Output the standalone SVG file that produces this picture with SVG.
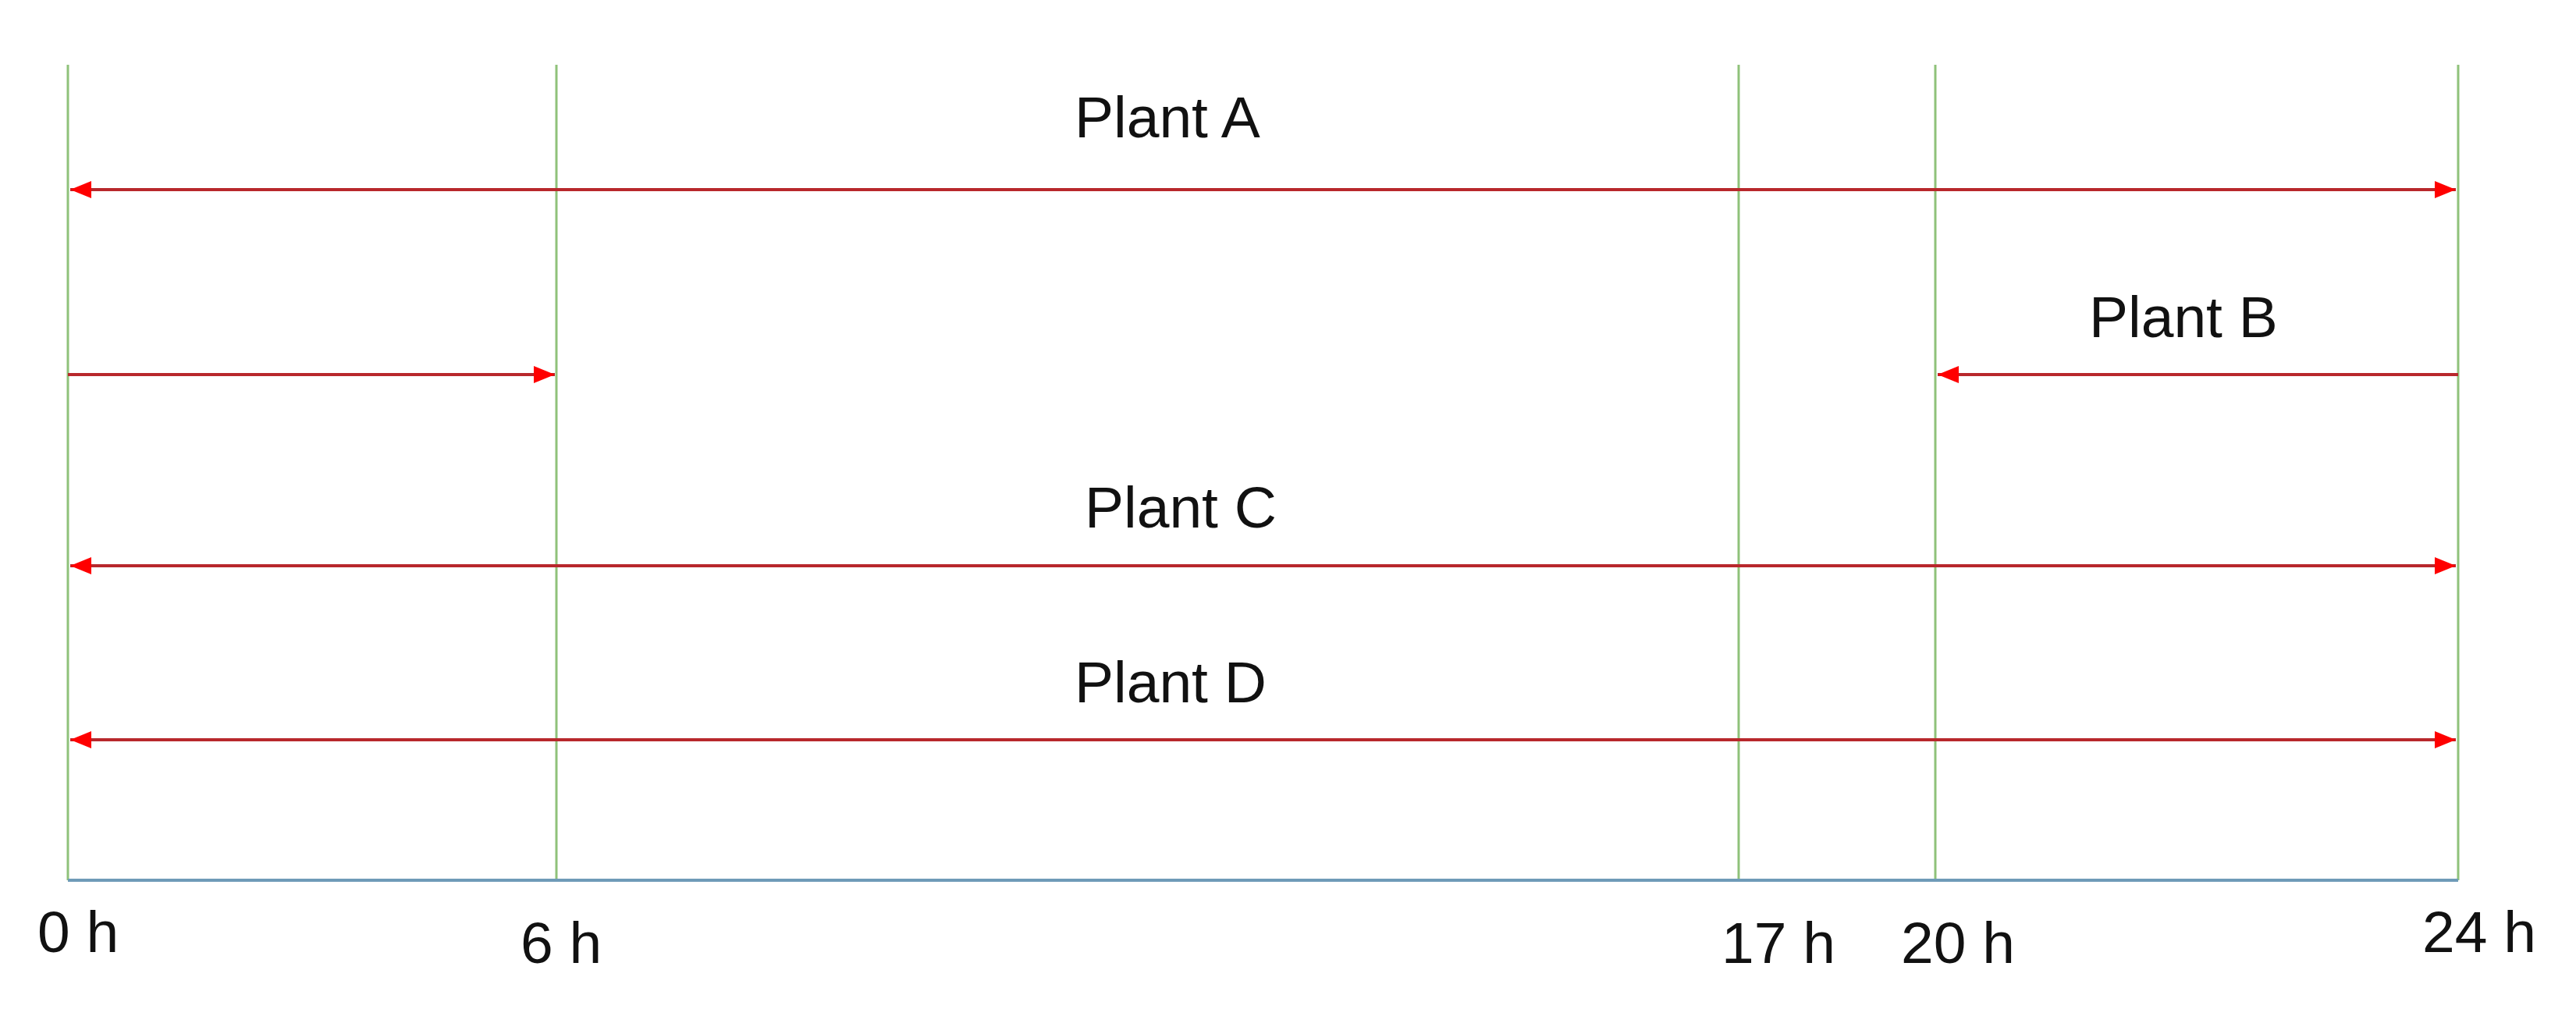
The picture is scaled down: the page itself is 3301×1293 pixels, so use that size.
<svg xmlns="http://www.w3.org/2000/svg" width="3301" height="1293" viewBox="0 0 3301 1293">
<style>
.grid{stroke:#8fc27a;stroke-width:3;fill:none}
.axis{stroke:#6f9bb8;stroke-width:4;fill:none}
.arr{stroke:#b8282c;stroke-width:4;fill:none}
.lbl{font-family:"Liberation Sans",Arial,sans-serif;font-size:75px;fill:#111}
</style>
<defs>
<marker id="ah" viewBox="0 0 27 22" refX="27" refY="11" markerWidth="27" markerHeight="22" markerUnits="userSpaceOnUse" orient="auto-start-reverse">
<path d="M0,0 L27,11 L0,22 Z" fill="#ff0000"/>
</marker>
</defs>
<rect width="3301" height="1293" fill="#ffffff"/>
<g id="gridlines">
<line class="grid" x1="87" y1="83" x2="87" y2="1128"/>
<line class="grid" x1="713" y1="83" x2="713" y2="1128"/>
<line class="grid" x1="2228" y1="83" x2="2228" y2="1128"/>
<line class="grid" x1="2480" y1="83" x2="2480" y2="1128"/>
<line class="grid" x1="3150" y1="83" x2="3150" y2="1128"/>
<line class="axis" x1="87" y1="1128" x2="3150" y2="1128"/>
</g>
<g id="connectors">
<line class="arr" x1="90" y1="243" x2="3147" y2="243" marker-start="url(#ah)" marker-end="url(#ah)"/>
<line class="arr" x1="87" y1="480" x2="711" y2="480" marker-end="url(#ah)"/>
<line class="arr" x1="3150" y1="480" x2="2483" y2="480" marker-end="url(#ah)"/>
<line class="arr" x1="90" y1="725" x2="3147" y2="725" marker-start="url(#ah)" marker-end="url(#ah)"/>
<line class="arr" x1="90" y1="948" x2="3147" y2="948" marker-start="url(#ah)" marker-end="url(#ah)"/>
</g>
<g id="plant-a"><text class="lbl" x="1377" y="176">Plant A</text></g>
<g id="plant-b"><text class="lbl" x="2677" y="432">Plant B</text></g>
<g id="plant-c"><text class="lbl" x="1390" y="676">Plant C</text></g>
<g id="plant-d"><text class="lbl" x="1377" y="900">Plant D</text></g>
<g id="ticks">
<text class="lbl" x="48" y="1220">0 h</text>
<text class="lbl" x="667" y="1234">6 h</text>
<text class="lbl" x="2206" y="1234">17 h</text>
<text class="lbl" x="2436" y="1234">20 h</text>
<text class="lbl" x="3104" y="1220">24 h</text>
</g>
</svg>
